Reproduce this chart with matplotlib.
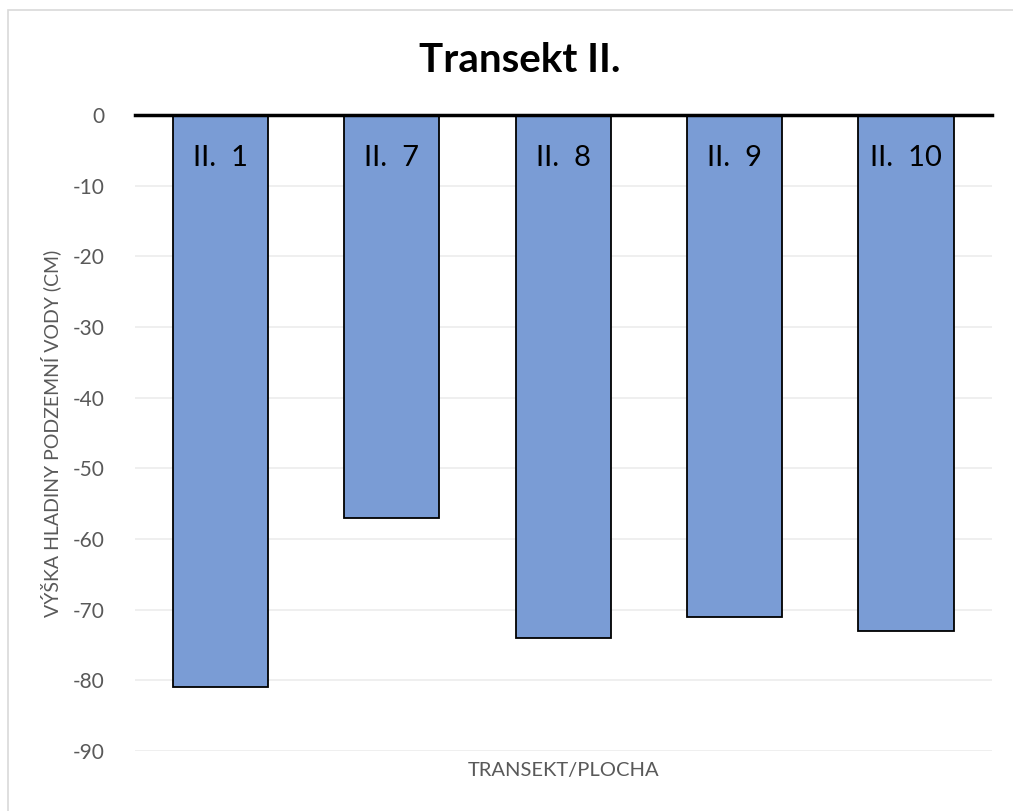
import numpy as np
import matplotlib.pyplot as plt
from matplotlib.patches import Rectangle

plt.rcParams['font.family'] = ['Lato', 'DejaVu Sans']

categories = ['II.  1', 'II.  7', 'II.  8', 'II.  9', 'II.  10']
values = [-81, -57, -74, -71, -73]
yticks = [0, -10, -20, -30, -40, -50, -60, -70, -80, -90]

fig = plt.figure(figsize=(10.13, 8.11), dpi=100)
ax = fig.add_axes([0.133, 0.074, 0.846, 0.784])

x = np.arange(len(categories))
ax.bar(x, values, width=0.555, color='#7A9CD5', edgecolor='black', linewidth=1.3, zorder=3)

for xi, lab in zip(x, categories):
    ax.text(xi, -6, lab, ha='center', va='center', fontsize=21, color='black', zorder=4)

ax.set_xlim(-0.5, 4.5)
ax.set_ylim(-90, 0)
ax.set_yticks(yticks)
ax.set_yticklabels([str(v) for v in yticks])
ax.set_xticks([])
ax.grid(axis='y', color='#ececec', linewidth=1.2, zorder=0)
ax.axhline(0, color='black', linewidth=2.5, zorder=5, clip_on=False)
for s in ax.spines.values():
    s.set_visible(False)
ax.tick_params(axis='y', length=0, labelsize=15, labelcolor='#595959', pad=22)

ax.set_xlabel('TRANSEKT/PLOCHA', fontsize=14.5, color='#595959', labelpad=8)
ax.set_ylabel('VÝŠKA HLADINY PODZEMNÍ VODY (CM)', fontsize=14, color='#595959', labelpad=8)

fig.text(0.513, 0.925, 'Transekt II.', ha='center', va='center', fontsize=29, fontweight='bold')

fig.patches.append(Rectangle((0.008, -0.01), 1.1, 0.998, transform=fig.transFigure,
                             fill=False, edgecolor='#d9d9d9', linewidth=1.2))

fig.savefig('out.png', dpi=100)
